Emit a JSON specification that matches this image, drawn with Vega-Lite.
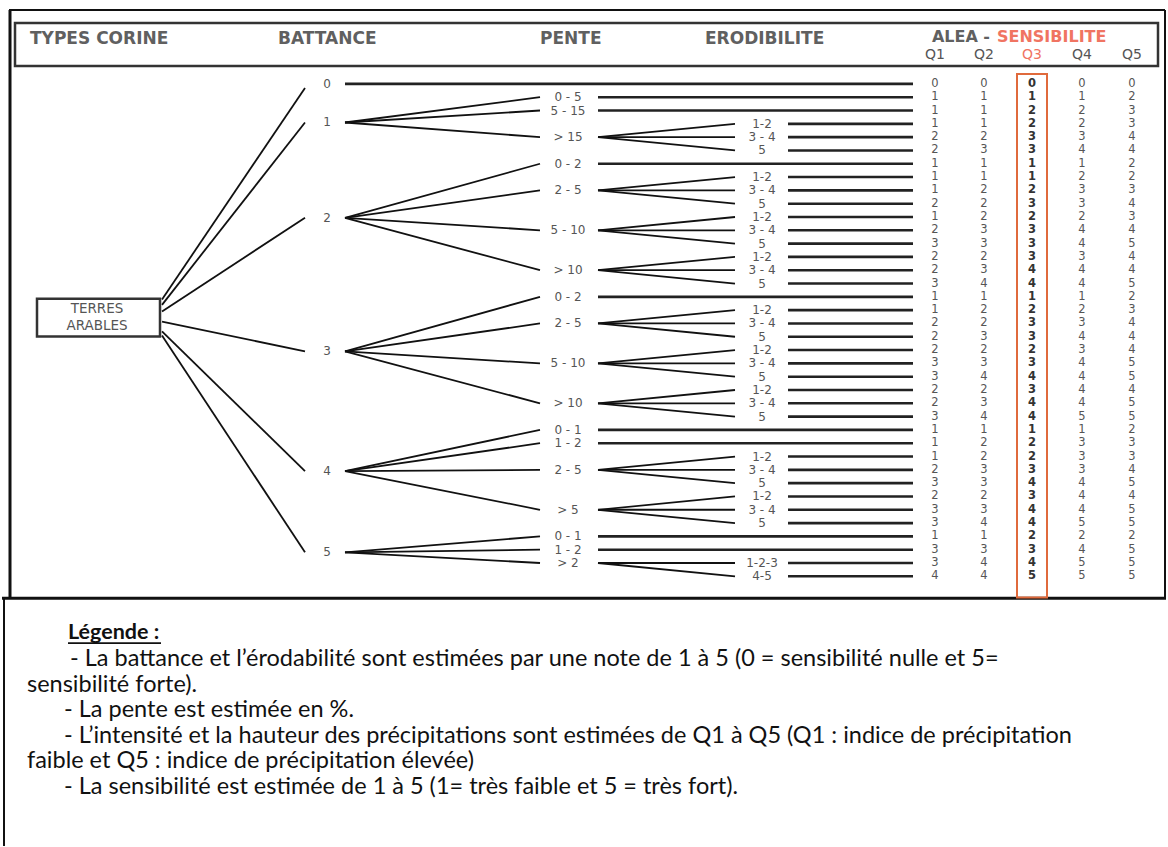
{
  "$schema": "https://vega.github.io/schema/vega-lite/v6.json",
  "width": 1168,
  "height": 847,
  "autosize": {"type": "fit", "contains": "padding"},
  "padding": 0,
  "background": "white",
  "config": {"view": {"stroke": null}},
  "datasets": {
    "levels": [
      {"lvl": "root", "xin": 0, "xlab": 97, "xout": 162},
      {"lvl": "batt", "xin": 305, "xlab": 327, "xout": 345},
      {"lvl": "pente", "xin": 540, "xlab": 568, "xout": 598},
      {"lvl": "erod", "xin": 735, "xlab": 762, "xout": 788}
    ],
    "cols": [
      {"key": "q1", "x": 935}, {"key": "q2", "x": 984}, {"key": "q3", "x": 1032}, {"key": "q4", "x": 1082}, {"key": "q5", "x": 1132}
    ],
    "edges": [
      {"f": "root", "fy": 16.2, "t": "batt", "ty": 0.3},
      {"f": "root", "fy": 16.6, "t": "batt", "ty": 2.9},
      {"f": "root", "fy": 17.1, "t": "batt", "ty": 10.06},
      {"f": "root", "fy": 17.86, "t": "batt", "ty": 20.1},
      {"f": "root", "fy": 18.6, "t": "batt", "ty": 29.1},
      {"f": "root", "fy": 18.9, "t": "batt", "ty": 35.2},
      {"f": "batt", "fy": 2.9, "t": "pente", "ty": 1},
      {"f": "batt", "fy": 2.9, "t": "pente", "ty": 2},
      {"f": "batt", "fy": 2.9, "t": "pente", "ty": 4},
      {"f": "batt", "fy": 10.06, "t": "pente", "ty": 6},
      {"f": "batt", "fy": 10.06, "t": "pente", "ty": 8},
      {"f": "batt", "fy": 10.06, "t": "pente", "ty": 11},
      {"f": "batt", "fy": 10.06, "t": "pente", "ty": 14},
      {"f": "batt", "fy": 20.1, "t": "pente", "ty": 16},
      {"f": "batt", "fy": 20.1, "t": "pente", "ty": 18},
      {"f": "batt", "fy": 20.1, "t": "pente", "ty": 21},
      {"f": "batt", "fy": 20.1, "t": "pente", "ty": 24},
      {"f": "batt", "fy": 29.1, "t": "pente", "ty": 26},
      {"f": "batt", "fy": 29.1, "t": "pente", "ty": 27},
      {"f": "batt", "fy": 29.1, "t": "pente", "ty": 29},
      {"f": "batt", "fy": 29.1, "t": "pente", "ty": 32},
      {"f": "batt", "fy": 35.2, "t": "pente", "ty": 34},
      {"f": "batt", "fy": 35.2, "t": "pente", "ty": 35},
      {"f": "batt", "fy": 35.2, "t": "pente", "ty": 36},
      {"f": "pente", "fy": 4, "t": "erod", "ty": 3},
      {"f": "pente", "fy": 4, "t": "erod", "ty": 4},
      {"f": "pente", "fy": 4, "t": "erod", "ty": 5},
      {"f": "pente", "fy": 8, "t": "erod", "ty": 7},
      {"f": "pente", "fy": 8, "t": "erod", "ty": 8},
      {"f": "pente", "fy": 8, "t": "erod", "ty": 9},
      {"f": "pente", "fy": 11, "t": "erod", "ty": 10},
      {"f": "pente", "fy": 11, "t": "erod", "ty": 11},
      {"f": "pente", "fy": 11, "t": "erod", "ty": 12},
      {"f": "pente", "fy": 14, "t": "erod", "ty": 13},
      {"f": "pente", "fy": 14, "t": "erod", "ty": 14},
      {"f": "pente", "fy": 14, "t": "erod", "ty": 15},
      {"f": "pente", "fy": 18, "t": "erod", "ty": 17},
      {"f": "pente", "fy": 18, "t": "erod", "ty": 18},
      {"f": "pente", "fy": 18, "t": "erod", "ty": 19},
      {"f": "pente", "fy": 21, "t": "erod", "ty": 20},
      {"f": "pente", "fy": 21, "t": "erod", "ty": 21},
      {"f": "pente", "fy": 21, "t": "erod", "ty": 22},
      {"f": "pente", "fy": 24, "t": "erod", "ty": 23},
      {"f": "pente", "fy": 24, "t": "erod", "ty": 24},
      {"f": "pente", "fy": 24, "t": "erod", "ty": 25},
      {"f": "pente", "fy": 29, "t": "erod", "ty": 28},
      {"f": "pente", "fy": 29, "t": "erod", "ty": 29},
      {"f": "pente", "fy": 29, "t": "erod", "ty": 30},
      {"f": "pente", "fy": 32, "t": "erod", "ty": 31},
      {"f": "pente", "fy": 32, "t": "erod", "ty": 32},
      {"f": "pente", "fy": 32, "t": "erod", "ty": 33},
      {"f": "pente", "fy": 36, "t": "erod", "ty": 36},
      {"f": "pente", "fy": 36, "t": "erod", "ty": 37}
    ],
    "leaves": [
      {"row": 0, "lvl": "batt", "q1": 0, "q2": 0, "q3": 0, "q4": 0, "q5": 0},
      {"row": 1, "lvl": "pente", "q1": 1, "q2": 1, "q3": 1, "q4": 1, "q5": 2},
      {"row": 2, "lvl": "pente", "q1": 1, "q2": 1, "q3": 2, "q4": 2, "q5": 3},
      {"row": 3, "lvl": "erod", "q1": 1, "q2": 1, "q3": 2, "q4": 2, "q5": 3},
      {"row": 4, "lvl": "erod", "q1": 2, "q2": 2, "q3": 3, "q4": 3, "q5": 4},
      {"row": 5, "lvl": "erod", "q1": 2, "q2": 3, "q3": 3, "q4": 4, "q5": 4},
      {"row": 6, "lvl": "pente", "q1": 1, "q2": 1, "q3": 1, "q4": 1, "q5": 2},
      {"row": 7, "lvl": "erod", "q1": 1, "q2": 1, "q3": 1, "q4": 2, "q5": 2},
      {"row": 8, "lvl": "erod", "q1": 1, "q2": 2, "q3": 2, "q4": 3, "q5": 3},
      {"row": 9, "lvl": "erod", "q1": 2, "q2": 2, "q3": 3, "q4": 3, "q5": 4},
      {"row": 10, "lvl": "erod", "q1": 1, "q2": 2, "q3": 2, "q4": 2, "q5": 3},
      {"row": 11, "lvl": "erod", "q1": 2, "q2": 3, "q3": 3, "q4": 4, "q5": 4},
      {"row": 12, "lvl": "erod", "q1": 3, "q2": 3, "q3": 3, "q4": 4, "q5": 5},
      {"row": 13, "lvl": "erod", "q1": 2, "q2": 2, "q3": 3, "q4": 3, "q5": 4},
      {"row": 14, "lvl": "erod", "q1": 2, "q2": 3, "q3": 4, "q4": 4, "q5": 4},
      {"row": 15, "lvl": "erod", "q1": 3, "q2": 4, "q3": 4, "q4": 4, "q5": 5},
      {"row": 16, "lvl": "pente", "q1": 1, "q2": 1, "q3": 1, "q4": 1, "q5": 2},
      {"row": 17, "lvl": "erod", "q1": 1, "q2": 2, "q3": 2, "q4": 2, "q5": 3},
      {"row": 18, "lvl": "erod", "q1": 2, "q2": 2, "q3": 3, "q4": 3, "q5": 4},
      {"row": 19, "lvl": "erod", "q1": 2, "q2": 3, "q3": 3, "q4": 4, "q5": 4},
      {"row": 20, "lvl": "erod", "q1": 2, "q2": 2, "q3": 2, "q4": 3, "q5": 4},
      {"row": 21, "lvl": "erod", "q1": 3, "q2": 3, "q3": 3, "q4": 4, "q5": 5},
      {"row": 22, "lvl": "erod", "q1": 3, "q2": 4, "q3": 4, "q4": 4, "q5": 5},
      {"row": 23, "lvl": "erod", "q1": 2, "q2": 2, "q3": 3, "q4": 4, "q5": 4},
      {"row": 24, "lvl": "erod", "q1": 2, "q2": 3, "q3": 4, "q4": 4, "q5": 5},
      {"row": 25, "lvl": "erod", "q1": 3, "q2": 4, "q3": 4, "q4": 5, "q5": 5},
      {"row": 26, "lvl": "pente", "q1": 1, "q2": 1, "q3": 1, "q4": 1, "q5": 2},
      {"row": 27, "lvl": "pente", "q1": 1, "q2": 2, "q3": 2, "q4": 3, "q5": 3},
      {"row": 28, "lvl": "erod", "q1": 1, "q2": 2, "q3": 2, "q4": 3, "q5": 3},
      {"row": 29, "lvl": "erod", "q1": 2, "q2": 3, "q3": 3, "q4": 3, "q5": 4},
      {"row": 30, "lvl": "erod", "q1": 3, "q2": 3, "q3": 4, "q4": 4, "q5": 5},
      {"row": 31, "lvl": "erod", "q1": 2, "q2": 2, "q3": 3, "q4": 4, "q5": 4},
      {"row": 32, "lvl": "erod", "q1": 3, "q2": 3, "q3": 4, "q4": 4, "q5": 5},
      {"row": 33, "lvl": "erod", "q1": 3, "q2": 4, "q3": 4, "q4": 5, "q5": 5},
      {"row": 34, "lvl": "pente", "q1": 1, "q2": 1, "q3": 2, "q4": 2, "q5": 2},
      {"row": 35, "lvl": "pente", "q1": 3, "q2": 3, "q3": 3, "q4": 4, "q5": 5},
      {"row": 36, "lvl": "erod", "q1": 3, "q2": 4, "q3": 4, "q4": 5, "q5": 5},
      {"row": 37, "lvl": "erod", "q1": 4, "q2": 4, "q3": 5, "q4": 5, "q5": 5}
    ],
    "nodes": [
      {"lvl": "batt", "row": 0, "label": "0"},
      {"lvl": "batt", "row": 2.9, "label": "1"},
      {"lvl": "batt", "row": 10.06, "label": "2"},
      {"lvl": "batt", "row": 20.1, "label": "3"},
      {"lvl": "batt", "row": 29.1, "label": "4"},
      {"lvl": "batt", "row": 35.2, "label": "5"},
      {"lvl": "pente", "row": 1, "label": "0 - 5"},
      {"lvl": "pente", "row": 2, "label": "5 - 15"},
      {"lvl": "pente", "row": 4, "label": "> 15"},
      {"lvl": "pente", "row": 6, "label": "0 - 2"},
      {"lvl": "pente", "row": 8, "label": "2 - 5"},
      {"lvl": "pente", "row": 11, "label": "5 - 10"},
      {"lvl": "pente", "row": 14, "label": "> 10"},
      {"lvl": "pente", "row": 16, "label": "0 - 2"},
      {"lvl": "pente", "row": 18, "label": "2 - 5"},
      {"lvl": "pente", "row": 21, "label": "5 - 10"},
      {"lvl": "pente", "row": 24, "label": "> 10"},
      {"lvl": "pente", "row": 26, "label": "0 - 1"},
      {"lvl": "pente", "row": 27, "label": "1 - 2"},
      {"lvl": "pente", "row": 29, "label": "2 - 5"},
      {"lvl": "pente", "row": 32, "label": "> 5"},
      {"lvl": "pente", "row": 34, "label": "0 - 1"},
      {"lvl": "pente", "row": 35, "label": "1 - 2"},
      {"lvl": "pente", "row": 36, "label": "> 2"},
      {"lvl": "erod", "row": 3, "label": "1-2"},
      {"lvl": "erod", "row": 4, "label": "3 - 4"},
      {"lvl": "erod", "row": 5, "label": "5"},
      {"lvl": "erod", "row": 7, "label": "1-2"},
      {"lvl": "erod", "row": 8, "label": "3 - 4"},
      {"lvl": "erod", "row": 9, "label": "5"},
      {"lvl": "erod", "row": 10, "label": "1-2"},
      {"lvl": "erod", "row": 11, "label": "3 - 4"},
      {"lvl": "erod", "row": 12, "label": "5"},
      {"lvl": "erod", "row": 13, "label": "1-2"},
      {"lvl": "erod", "row": 14, "label": "3 - 4"},
      {"lvl": "erod", "row": 15, "label": "5"},
      {"lvl": "erod", "row": 17, "label": "1-2"},
      {"lvl": "erod", "row": 18, "label": "3 - 4"},
      {"lvl": "erod", "row": 19, "label": "5"},
      {"lvl": "erod", "row": 20, "label": "1-2"},
      {"lvl": "erod", "row": 21, "label": "3 - 4"},
      {"lvl": "erod", "row": 22, "label": "5"},
      {"lvl": "erod", "row": 23, "label": "1-2"},
      {"lvl": "erod", "row": 24, "label": "3 - 4"},
      {"lvl": "erod", "row": 25, "label": "5"},
      {"lvl": "erod", "row": 28, "label": "1-2"},
      {"lvl": "erod", "row": 29, "label": "3 - 4"},
      {"lvl": "erod", "row": 30, "label": "5"},
      {"lvl": "erod", "row": 31, "label": "1-2"},
      {"lvl": "erod", "row": 32, "label": "3 - 4"},
      {"lvl": "erod", "row": 33, "label": "5"},
      {"lvl": "erod", "row": 36, "label": "1-2-3"},
      {"lvl": "erod", "row": 37, "label": "4-5"}
    ]
  },
  "layer": [
    {
      "data": {"values": [
        {"x": 10, "y": -5.554, "x2": 10, "y2": 38.65},
        {"x": 2, "y": 38.65, "x2": 1166, "y2": 38.65}
      ]},
      "mark": {"type": "rule", "color": "#111111", "strokeWidth": 3},
      "encoding": {
        "x": {"field": "x", "type": "quantitative", "scale": {"domain": [0, 1168], "nice": false, "zero": false}, "axis": null},
        "x2": {"field": "x2"},
        "y": {"field": "y", "type": "quantitative", "scale": {"domain": [-6.3043, 57.264], "reverse": true, "nice": false, "zero": false}, "axis": null},
        "y2": {"field": "y2"}
      }
    },
    {
      "data": {"values": [
        {"x": 9, "y": -5.554, "x2": 1165, "y2": -5.554},
        {"x": 1165, "y": -5.554, "x2": 1165, "y2": 38.65},
        {"x": 4, "y": 38.65, "x2": 4, "y2": 57.26}
      ]},
      "mark": {"type": "rule", "color": "#111111", "strokeWidth": 2},
      "encoding": {
        "x": {"field": "x", "type": "quantitative"},
        "x2": {"field": "x2"},
        "y": {"field": "y", "type": "quantitative"},
        "y2": {"field": "y2"}
      }
    },
    {
      "data": {"values": [
        {"x": 15, "x2": 1158, "y": -4.578, "y2": -1.351},
        {"x": 37, "x2": 160, "y": 16.136, "y2": 18.988}
      ]},
      "mark": {"type": "rect", "filled": false, "stroke": "#333333", "strokeWidth": 2.5},
      "encoding": {
        "x": {"field": "x", "type": "quantitative"},
        "x2": {"field": "x2"},
        "y": {"field": "y", "type": "quantitative"},
        "y2": {"field": "y2"}
      }
    },
    {
      "data": {"values": [{"x": 1017, "x2": 1047, "y": -0.75, "y2": 38.6}]},
      "mark": {"type": "rect", "filled": false, "stroke": "#e06a3c", "strokeWidth": 2},
      "encoding": {
        "x": {"field": "x", "type": "quantitative"},
        "x2": {"field": "x2"},
        "y": {"field": "y", "type": "quantitative"},
        "y2": {"field": "y2"}
      }
    },
    {
      "data": {"name": "edges"},
      "transform": [
        {"lookup": "f", "from": {"data": {"name": "levels"}, "key": "lvl", "fields": ["xout"]}, "as": ["xa"]},
        {"lookup": "t", "from": {"data": {"name": "levels"}, "key": "lvl", "fields": ["xin"]}, "as": ["xb"]}
      ],
      "mark": {"type": "rule", "color": "#111111", "strokeWidth": 1.8},
      "encoding": {
        "x": {"field": "xa", "type": "quantitative"},
        "x2": {"field": "xb"},
        "y": {"field": "fy", "type": "quantitative"},
        "y2": {"field": "ty"}
      }
    },
    {
      "data": {"name": "leaves"},
      "transform": [
        {"lookup": "lvl", "from": {"data": {"name": "levels"}, "key": "lvl", "fields": ["xout"]}, "as": ["xa"]}
      ],
      "mark": {"type": "rule", "color": "#222222", "strokeWidth": 2.6},
      "encoding": {
        "x": {"field": "xa", "type": "quantitative"},
        "x2": {"datum": 913},
        "y": {"field": "row", "type": "quantitative"}
      }
    },
    {
      "data": {"name": "nodes"},
      "transform": [
        {"lookup": "lvl", "from": {"data": {"name": "levels"}, "key": "lvl", "fields": ["xlab"]}, "as": ["xl"]}
      ],
      "mark": {"type": "text", "font": "DejaVu Sans", "fontSize": 12, "color": "#555555", "align": "center", "baseline": "middle"},
      "encoding": {
        "x": {"field": "xl", "type": "quantitative"},
        "y": {"field": "row", "type": "quantitative"},
        "text": {"field": "label"}
      }
    },
    {
      "data": {"values": [
        {"x": 97, "y": 16.95, "t": "TERRES"},
        {"x": 97, "y": 18.17, "t": "ARABLES"}
      ]},
      "mark": {"type": "text", "font": "DejaVu Sans", "fontSize": 13.5, "color": "#555555", "align": "center", "baseline": "middle"},
      "encoding": {
        "x": {"field": "x", "type": "quantitative"},
        "y": {"field": "y", "type": "quantitative"},
        "text": {"field": "t"}
      }
    },
    {
      "data": {"name": "leaves"},
      "transform": [
        {"fold": ["q1", "q2", "q3", "q4", "q5"]},
        {"filter": "datum.key !== 'q3'"},
        {"lookup": "key", "from": {"data": {"name": "cols"}, "key": "key", "fields": ["x"]}, "as": ["xq"]}
      ],
      "mark": {"type": "text", "font": "DejaVu Sans", "fontSize": 11.5, "color": "#555555", "align": "center", "baseline": "middle"},
      "encoding": {
        "x": {"field": "xq", "type": "quantitative"},
        "y": {"field": "row", "type": "quantitative"},
        "text": {"field": "value"}
      }
    },
    {
      "data": {"name": "leaves"},
      "transform": [
        {"fold": ["q1", "q2", "q3", "q4", "q5"]},
        {"filter": "datum.key === 'q3'"},
        {"lookup": "key", "from": {"data": {"name": "cols"}, "key": "key", "fields": ["x"]}, "as": ["xq"]}
      ],
      "mark": {"type": "text", "font": "DejaVu Sans", "fontSize": 11.5, "fontWeight": "bold", "color": "#333333", "align": "center", "baseline": "middle"},
      "encoding": {
        "x": {"field": "xq", "type": "quantitative"},
        "y": {"field": "row", "type": "quantitative"},
        "text": {"field": "value"}
      }
    },
    {
      "data": {"values": [
        {"x": 30, "y": -3.377, "t": "TYPES CORINE"},
        {"x": 278, "y": -3.377, "t": "BATTANCE"},
        {"x": 540, "y": -3.377, "t": "PENTE"},
        {"x": 705, "y": -3.377, "t": "ERODIBILITE"}
      ]},
      "mark": {"type": "text", "font": "DejaVu Sans", "fontSize": 17, "fontWeight": "bold", "color": "#606060", "align": "left", "baseline": "middle"},
      "encoding": {
        "x": {"field": "x", "type": "quantitative"},
        "y": {"field": "y", "type": "quantitative"},
        "text": {"field": "t"}
      }
    },
    {
      "data": {"values": [{"x": 990, "y": -3.55, "t": "ALEA -"}]},
      "mark": {"type": "text", "font": "DejaVu Sans", "fontSize": 16, "fontWeight": "bold", "color": "#606060", "align": "right", "baseline": "middle"},
      "encoding": {
        "x": {"field": "x", "type": "quantitative"},
        "y": {"field": "y", "type": "quantitative"},
        "text": {"field": "t"}
      }
    },
    {
      "data": {"values": [{"x": 997, "y": -3.55, "t": "SENSIBILITE"}]},
      "mark": {"type": "text", "font": "DejaVu Sans", "fontSize": 16, "fontWeight": "bold", "color": "#f07462", "align": "left", "baseline": "middle"},
      "encoding": {
        "x": {"field": "x", "type": "quantitative"},
        "y": {"field": "y", "type": "quantitative"},
        "text": {"field": "t"}
      }
    },
    {
      "data": {"values": [
        {"x": 935, "y": -2.2, "t": "Q1"},
        {"x": 984, "y": -2.2, "t": "Q2"},
        {"x": 1082, "y": -2.2, "t": "Q4"},
        {"x": 1132, "y": -2.2, "t": "Q5"}
      ]},
      "mark": {"type": "text", "font": "DejaVu Sans", "fontSize": 14, "color": "#555555", "align": "center", "baseline": "middle"},
      "encoding": {
        "x": {"field": "x", "type": "quantitative"},
        "y": {"field": "y", "type": "quantitative"},
        "text": {"field": "t"}
      }
    },
    {
      "data": {"values": [{"x": 1032, "y": -2.2, "t": "Q3"}]},
      "mark": {"type": "text", "font": "DejaVu Sans", "fontSize": 14, "color": "#f07462", "align": "center", "baseline": "middle"},
      "encoding": {
        "x": {"field": "x", "type": "quantitative"},
        "y": {"field": "y", "type": "quantitative"},
        "text": {"field": "t"}
      }
    },
    {
      "data": {"values": [{"x": 68, "y": 41.278, "t": "Légende :"}]},
      "mark": {"type": "text", "font": "Lato", "fontSize": 21.5, "fontWeight": "bold", "color": "#111111", "align": "left", "baseline": "middle"},
      "encoding": {
        "x": {"field": "x", "type": "quantitative"},
        "y": {"field": "y", "type": "quantitative"},
        "text": {"field": "t"}
      }
    },
    {
      "data": {"values": [{"x": 68, "x2": 161, "y": 42.02}]},
      "mark": {"type": "rule", "color": "#111111", "strokeWidth": 1.6},
      "encoding": {
        "x": {"field": "x", "type": "quantitative"},
        "x2": {"field": "x2"},
        "y": {"field": "y", "type": "quantitative"}
      }
    },
    {
      "data": {"values": [
        {"x": 70, "y": 43.229, "t": "- La battance et l’érodabilité sont estimées par une note de 1 à 5 (0 = sensibilité nulle et  5="},
        {"x": 27, "y": 45.181, "t": "sensibilité forte)."},
        {"x": 64, "y": 47.057, "t": "- La pente est estimée en %."},
        {"x": 64, "y": 49.008, "t": "- L’intensité et la hauteur des précipitations sont estimées de Q1 à Q5 (Q1 : indice de précipitation"},
        {"x": 27, "y": 50.884, "t": "faible et Q5 : indice de précipitation élevée)"},
        {"x": 64, "y": 52.836, "t": "- La sensibilité est estimée de 1 à 5 (1= très faible et 5 = très fort)."}
      ]},
      "mark": {"type": "text", "font": "Lato", "fontSize": 23.5, "color": "#111111", "align": "left", "baseline": "middle"},
      "encoding": {
        "x": {"field": "x", "type": "quantitative"},
        "y": {"field": "y", "type": "quantitative"},
        "text": {"field": "t"}
      }
    }
  ]
}
